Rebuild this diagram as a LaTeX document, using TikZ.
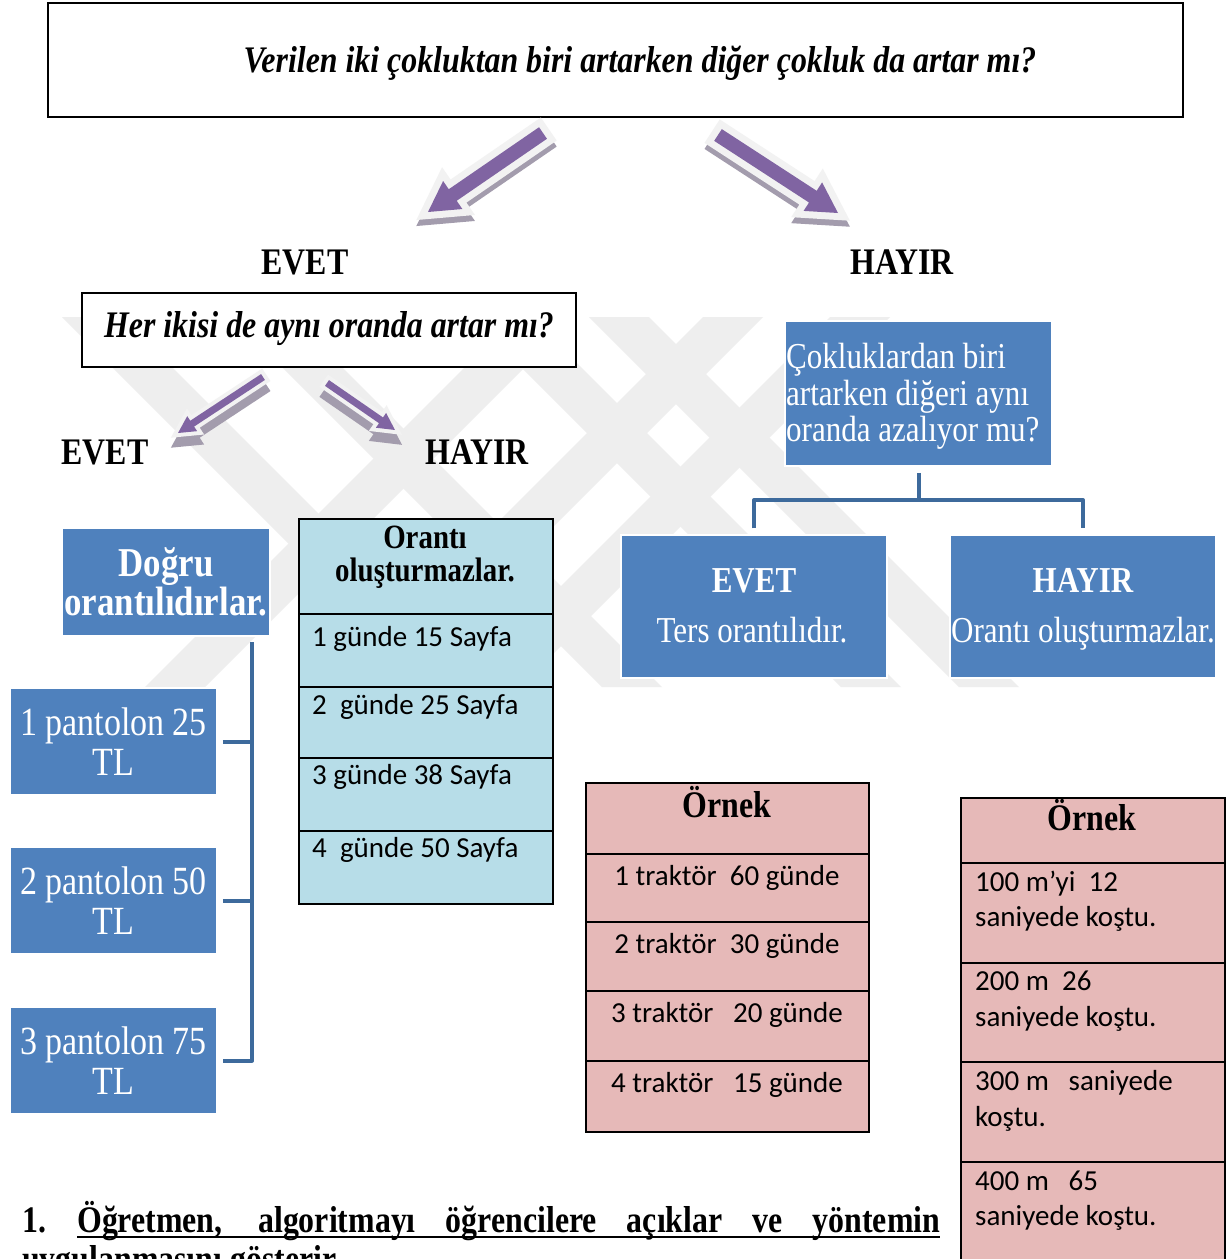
\documentclass[tikz,border=0pt]{standalone}
\usepackage{fontspec}
\setmainfont{Liberation Serif}[FakeStretch=0.85]
\newfontfamily\calibfont{Carlito}
\usetikzlibrary{calc}

\definecolor{boxblue}{HTML}{4F81BD}
\definecolor{linkblue}{HTML}{3D6A9C}
\definecolor{cellblue}{HTML}{B7DDE8}
\definecolor{cellpink}{HTML}{E6B9B8}
\definecolor{arrowpurple}{HTML}{8064A2}
\definecolor{arrowrim}{HTML}{F2F2F2}
\definecolor{arrowshade}{HTML}{A39CAD}
\definecolor{markgray}{HTML}{EEEEEE}

% 3-D block arrow: tail (x1,y1), tip (x2,y2), shaft half width, head half width,
% head length, rim width, drop of the shadow
\newcommand{\blockarrow}[9]{%
  \pgfmathsetmacro{\baang}{atan2((#2)-(#4),(#3)-(#1))}%
  \pgfmathsetmacro{\balen}{veclen((#3)-(#1),(#4)-(#2))}%
  \pgfmathsetmacro{\baneck}{\balen-(#7)}%
  \tikzset{bapoly/.style={insert path={(0pt,-#5pt) -- (\baneck pt,-#5pt) -- (\baneck pt,-#6pt) -- (\balen pt,0pt) -- (\baneck pt,#6pt) -- (\baneck pt,#5pt) -- (0pt,#5pt) -- cycle}}}%
  \begin{scope}[shift={(#1,#2)},yshift=-#9pt,rotate=\baang]
    \filldraw[draw=arrowshade,fill=arrowshade,line width=#8pt,line join=miter,bapoly];
  \end{scope}
  \begin{scope}[shift={(#1,#2)},rotate=\baang]
    \filldraw[draw=arrowrim,fill=arrowrim,line width=#8pt,line join=miter,bapoly];
    \fill[arrowpurple,bapoly];
  \end{scope}}

\begin{document}
\begin{tikzpicture}[x=1pt,y=-1pt,
  qframe/.style={draw=black,line width=2.2pt,fill=white,inner sep=0pt},
  qtext/.style={font=\fontsize{37.5}{42}\selectfont\bfseries\itshape,inner sep=0pt,anchor=base},
  lbl/.style={font=\fontsize{37.5}{42}\selectfont\bfseries,inner sep=0pt,anchor=base},
  bluebox/.style={fill=boxblue,draw=white,line width=1.5pt,inner sep=0pt,text=white,align=center},
  bluetxt/.style={font=\fontsize{36.5}{42}\selectfont,text=white,inner sep=0pt},
  link/.style={draw=linkblue,line width=4pt,line join=round},
  cell/.style={draw=black,line width=2pt,inner sep=0pt,anchor=north west},
  celltxt/.style={font=\calibfont\fontsize{29}{36}\selectfont,inner sep=0pt},
  bottomtxt/.style={font=\fontsize{37.5}{42}\selectfont\bfseries,inner sep=0pt,anchor=base west}]

\useasboundingbox (0,0) rectangle (1229,1259);
\fill[white] (0,0) rectangle (1229,1259);

% faint diagonal background mark
\begin{scope}
  \clip (60,315) rectangle (1050,687);
  \foreach \x in {92,262,501,619}
    \fill[markgray] (\x-30,317) -- (\x+30,317) -- (\x+400,687) -- (\x+340,687) -- cycle;
  \foreach \x in {545,733,860}
    \fill[markgray] (\x-30,317) -- (\x+30,317) -- (\x-340,687) -- (\x-400,687) -- cycle;
\end{scope}

% main question
\node[qframe,minimum width=1135pt,minimum height=114pt] (q0) at (615.5,60) {};
\node[qtext] (q0t) at (640,72) {Verilen iki çokluktan biri artarken diğer çokluk da artar mı?};

\blockarrow{543}{133}{428}{212}{7}{17}{30}{14}{6}
\blockarrow{718}{135}{838}{213}{7}{17}{30}{14}{6}

\node[lbl] (yes0) at (305,274.5) {EVET};
\node[lbl] (no0) at (902,274.5) {HAYIR};

% left branch: same ratio?
\node[qframe,line width=1.8pt,minimum width=494pt,minimum height=74pt] (q1) at (329,330) {};
\node[qtext] (q1t) at (329,337.5) {Her ikisi de aynı oranda artar mı?};

\blockarrow{263}{377}{178}{433}{3.5}{9}{17}{8}{10}
\blockarrow{327}{383}{395}{430}{3.5}{9}{17}{8}{10}

\node[lbl] (yes1) at (105,464.5) {EVET};
\node[lbl] (no1) at (477,464.5) {HAYIR};

\node[bluebox,minimum width=208pt,minimum height=108pt,
      font=\fontsize{41}{37}\selectfont\bfseries] (dg) at (166,582) {Doğru\\orantılıdırlar.};

\node[bluebox,minimum width=207pt,minimum height=107pt,font=\fontsize{40}{40}\selectfont] (p1) at (113.5,741.5) {1 pantolon 25\\TL};
\node[bluebox,minimum width=207pt,minimum height=107pt,font=\fontsize{40}{40}\selectfont] (p2) at (113.5,900.5) {2 pantolon 50\\TL};
\node[bluebox,minimum width=207pt,minimum height=107pt,font=\fontsize{40}{40}\selectfont] (p3) at (113.5,1060.5) {3 pantolon 75\\TL};

\coordinate (trunk) at (252,642);
\draw[link] (trunk) -- (trunk |- p3.east) -- ([xshift=5pt]p3.east);
\draw[link] ([xshift=5pt]p1.east) -- (trunk |- p1.east);
\draw[link] ([xshift=5pt]p2.east) -- (trunk |- p2.east);

% table: no proportion
\node[cell,fill=cellblue,minimum width=254pt,minimum height=95pt] (ob0) at (298,518) {};
\node[cell,fill=cellblue,minimum width=254pt,minimum height=73pt] (ob1) at (298,613) {};
\node[cell,fill=cellblue,minimum width=254pt,minimum height=71pt] (ob2) at (298,686) {};
\node[cell,fill=cellblue,minimum width=254pt,minimum height=73pt] (ob3) at (298,757) {};
\node[cell,fill=cellblue,minimum width=254pt,minimum height=73pt] (ob4) at (298,830) {};
\node[lbl,font=\fontsize{34}{38}\selectfont\bfseries] (obh1) at (425,548) {Orantı};
\node[lbl,font=\fontsize{34}{38}\selectfont\bfseries] (obh2) at (425,581) {oluşturmazlar.};
\node[celltxt,anchor=base west] (obt1) at (312,646) {1 günde 15 Sayfa};
\node[celltxt,anchor=base west] (obt2) at (312,714) {2~ günde 25 Sayfa};
\node[celltxt,anchor=base west] (obt3) at (312,784) {3 günde 38 Sayfa};
\node[celltxt,anchor=base west] (obt4) at (312,857) {4~ günde 50 Sayfa};

% right branch
\node[bluebox,minimum width=267pt,minimum height=145pt] (cq) at (918.5,393.5) {};
\node[bluetxt,anchor=base west] (cq1) at (786,368) {Çokluklardan biri};
\node[bluetxt,anchor=base west] (cq2) at (786,405) {artarken diğeri aynı};
\node[bluetxt,anchor=base west] (cq3) at (786,441) {oranda azalıyor mu?};

\node[bluebox,minimum width=266pt,minimum height=143pt] (ev) at (754,606.5) {};
\node[bluetxt,font=\fontsize{36.5}{42}\selectfont\bfseries,anchor=base] (evh) at (754,592) {EVET};
\node[bluetxt,anchor=base] (evt) at (752,642) {Ters orantılıdır.};

\node[bluebox,minimum width=266pt,minimum height=143pt] (hy) at (1083,606.5) {};
\node[bluetxt,font=\fontsize{36.5}{42}\selectfont\bfseries,anchor=base] (hyh) at (1083,592) {HAYIR};
\node[bluetxt,anchor=base] (hyt) at (1083,642) {Orantı oluşturmazlar.};

\coordinate (hub) at (918.5,500);
\draw[link] ([yshift=-6pt]cq.south) -- (hub);
\draw[link] ([yshift=6pt]ev.north) |- (hub) -| ([yshift=6pt]hy.north);

% example table: tractors
\node[cell,fill=cellpink,minimum width=283pt,minimum height=71pt] (ta0) at (585,782) {};
\node[cell,fill=cellpink,minimum width=283pt,minimum height=68pt] (ta1) at (585,853) {};
\node[cell,fill=cellpink,minimum width=283pt,minimum height=69pt] (ta2) at (585,921) {};
\node[cell,fill=cellpink,minimum width=283pt,minimum height=70pt] (ta3) at (585,990) {};
\node[cell,fill=cellpink,minimum width=283pt,minimum height=71pt] (ta4) at (585,1060) {};
\node[lbl] (tah) at (727,817.5) {Örnek};
\node[celltxt,anchor=base] (tat1) at (727,885) {1 traktör~ 60 günde};
\node[celltxt,anchor=base] (tat2) at (727,953) {2 traktör~ 30 günde};
\node[celltxt,anchor=base] (tat3) at (727,1022) {3 traktör~~ 20 günde};
\node[celltxt,anchor=base] (tat4) at (727,1092) {4 traktör~~ 15 günde};

% example table: runner
\node[cell,fill=cellpink,minimum width=264pt,minimum height=65pt] (ru0) at (960,797) {};
\node[cell,fill=cellpink,minimum width=264pt,minimum height=100pt] (ru1) at (960,862) {};
\node[cell,fill=cellpink,minimum width=264pt,minimum height=99pt] (ru2) at (960,962) {};
\node[cell,fill=cellpink,minimum width=264pt,minimum height=100pt] (ru3) at (960,1061) {};
\node[cell,fill=cellpink,minimum width=264pt,minimum height=110pt] (ru4) at (960,1161) {};
\node[lbl] (ruh) at (1092,830.5) {Örnek};
\node[celltxt,anchor=base west] (rua1) at (975,891) {100 m’yi~ 12};
\node[celltxt,anchor=base west] (rub1) at (975,926) {saniyede koştu.};
\node[celltxt,anchor=base west] (rua2) at (975,990) {200 m~ 26};
\node[celltxt,anchor=base west] (rub2) at (975,1026) {saniyede koştu.};
\node[celltxt,anchor=base west] (rua3) at (975,1090) {300 m~~ saniyede};
\node[celltxt,anchor=base west] (rub3) at (975,1126) {koştu.};
\node[celltxt,anchor=base west] (rua4) at (975,1190) {400 m~~ 65};
\node[celltxt,anchor=base west] (rub4) at (975,1225) {saniyede koştu.};

% numbered step below the chart
\node[bottomtxt] (st1) at (22,1232) {1.};
\node[bottomtxt] (st1a) at (77,1232) {\makebox[863pt][s]{Öğretmen, algoritmayı öğrencilere açıklar ve yöntemin}};
\draw[line width=2.5pt] ([yshift=-5pt]st1a.base west) -- ([yshift=-5pt]st1a.base east);
\node[bottomtxt] (st1b) at (22,1271) {uygulanmasını gösterir.};
\end{tikzpicture}
\end{document}
